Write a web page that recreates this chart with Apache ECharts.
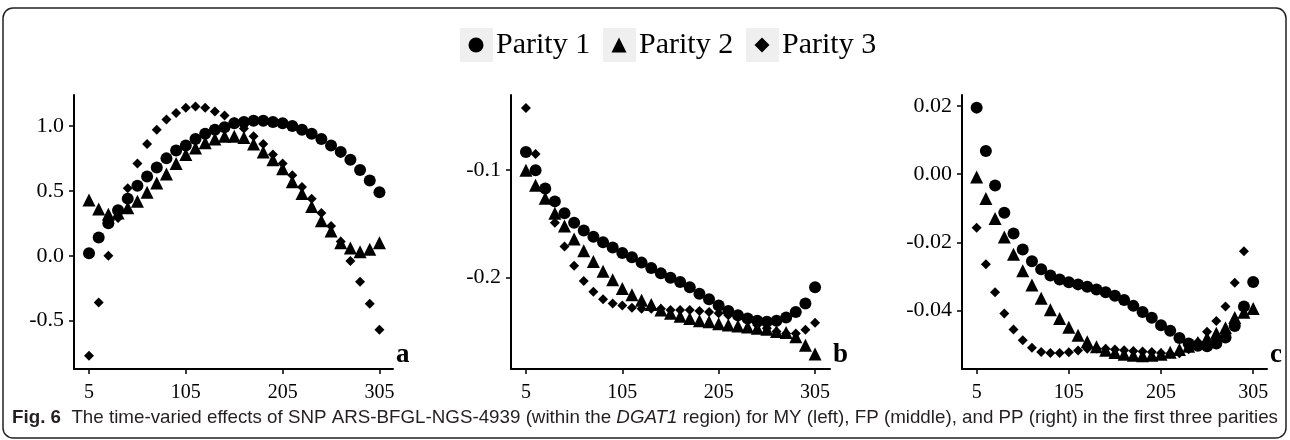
<!DOCTYPE html>
<html>
<head>
<meta charset="utf-8">
<script src="https://cdn.jsdelivr.net/npm/echarts@6/dist/echarts.min.js"></script>
<style>
  html, body { margin: 0; padding: 0; background: #fff; }
  #chart { width: 1290px; height: 440px; }
</style>
</head>
<body>
<div id="chart"></div>
<script>
// days in milk
const days = [5, 15, 25, 35, 45, 55, 65, 75, 85, 95, 105, 115, 125, 135, 145, 155,
  165, 175, 185, 195, 205, 215, 225, 235, 245, 255, 265, 275, 285, 295, 305];
const xTicks = [5, 105, 205, 305];
const parities = ['Parity 1', 'Parity 2', 'Parity 3'];

// (a) MY
const myP1 = [0.02, 0.14, 0.25, 0.35, 0.44, 0.54, 0.61, 0.68, 0.75, 0.81, 0.85, 0.90, 0.94, 0.97, 0.99,
  1.02, 1.03, 1.04, 1.04, 1.03, 1.02, 1.00, 0.97, 0.94, 0.90, 0.85, 0.80, 0.74, 0.66, 0.58, 0.49];
const myP2 = [0.43, 0.36, 0.32, 0.33, 0.37, 0.42, 0.49, 0.56, 0.63, 0.71, 0.78, 0.83, 0.87, 0.90, 0.92,
  0.92, 0.91, 0.86, 0.80, 0.74, 0.67, 0.57, 0.48, 0.38, 0.27, 0.19, 0.10, 0.06, 0.03, 0.05, 0.10];
const myP3 = [-0.77, -0.36, 0.00, 0.29, 0.52, 0.71, 0.86, 0.97, 1.05, 1.10, 1.14, 1.15, 1.14, 1.11, 1.08,
  1.03, 0.98, 0.92, 0.86, 0.78, 0.71, 0.62, 0.53, 0.44, 0.33, 0.23, 0.11, -0.04, -0.20, -0.37, -0.57];
const myTicks = [-0.5, 0, 0.5, 1.0];

// (b) FP
const fpP1 = [-0.083, -0.100, -0.117, -0.129, -0.140, -0.149, -0.156, -0.162, -0.167, -0.172, -0.177,
  -0.181, -0.186, -0.191, -0.196, -0.200, -0.204, -0.209, -0.215, -0.220, -0.226, -0.231, -0.235,
  -0.238, -0.240, -0.241, -0.240, -0.237, -0.232, -0.224, -0.209];
const fpP2 = [-0.100, -0.114, -0.126, -0.140, -0.152, -0.164, -0.175, -0.185, -0.194, -0.202, -0.210,
  -0.216, -0.221, -0.225, -0.230, -0.233, -0.236, -0.238, -0.240, -0.241, -0.243, -0.244, -0.245,
  -0.246, -0.247, -0.248, -0.250, -0.251, -0.255, -0.263, -0.271];
const fpP3 = [-0.042, -0.085, -0.119, -0.149, -0.171, -0.189, -0.203, -0.213, -0.220, -0.224, -0.226,
  -0.228, -0.229, -0.229, -0.229, -0.230, -0.230, -0.230, -0.231, -0.232, -0.233, -0.235, -0.237,
  -0.240, -0.244, -0.247, -0.250, -0.252, -0.252, -0.2485, -0.242];
const fpTicks = [-0.2, -0.1];

// (c) PP
const ppP1 = [0.0195, 0.0068, -0.0033, -0.0113, -0.0174, -0.0221, -0.0255, -0.0279, -0.0297, -0.0309,
  -0.0317, -0.0323, -0.0330, -0.0338, -0.0346, -0.0356, -0.0369, -0.0386, -0.0404, -0.0421, -0.0443,
  -0.0459, -0.0480, -0.0496, -0.0503, -0.0504, -0.0496, -0.0479, -0.0445, -0.0388, -0.0316];
const ppP2 = [-0.0008, -0.0071, -0.0130, -0.0184, -0.0235, -0.0283, -0.0325, -0.0364, -0.0397, -0.0423,
  -0.0449, -0.0472, -0.0491, -0.0506, -0.0516, -0.0523, -0.0528, -0.0531, -0.0532, -0.0531, -0.0528,
  -0.0522, -0.0514, -0.0504, -0.0493, -0.0480, -0.0466, -0.0450, -0.0420, -0.0405, -0.0394];
const ppP3 = [-0.0157, -0.0264, -0.0346, -0.0408, -0.0455, -0.0487, -0.0509, -0.0521, -0.0524, -0.0524,
  -0.0522, -0.0517, -0.0512, -0.0511, -0.0512, -0.0514, -0.0516, -0.0518, -0.0520, -0.0521, -0.0524,
  -0.0526, -0.0525, -0.0513, -0.0492, -0.0462, -0.0430, -0.0388, -0.0318, -0.0226];
const ppTicks = [-0.04, -0.02, 0, 0.02];

const serif = 'Liberation Serif';
const symbols = ['circle', 'triangle', 'diamond'];
const symbolSizes = [12, 13, 10];

// text measuring for legend boxes and caption fit
const ctx = document.createElement('canvas').getContext('2d');
function textWidth(font, s) { ctx.font = font; return ctx.measureText(s).width; }

const panels = [
  { data: [myP1, myP2, myP3], ticks: myTicks, dec: 1, ymin: -0.872, ymax: 1.238,
    xmin: -10.5, xmax: 319, grid: { left: 74, top: 95, width: 319, height: 274 }, tag: 'a' },
  { data: [fpP1, fpP2, fpP3], ticks: fpTicks, dec: 1, ymin: -0.285, ymax: -0.030,
    xmin: -10.5, xmax: 320.5, grid: { left: 511, top: 95, width: 319, height: 274 }, tag: 'b' },
  { data: [ppP1, ppP2, ppP3], ticks: ppTicks, dec: 2, ymin: -0.0571, ymax: 0.0232,
    xmin: -10.9, xmax: 320, grid: { left: 962, top: 95, width: 305, height: 274 }, tag: 'c' }
];

const axisLine = { show: true, onZero: false, lineStyle: { color: '#000', width: 2 } };
const tickStyle = { color: '#000', width: 1.5 };
const grids = [], xAxes = [], yAxes = [], series = [], tags = [];
panels.forEach((p, i) => {
  grids.push(p.grid);
  xAxes.push({
    type: 'value', gridIndex: i, min: p.xmin, max: p.xmax,
    axisLine: axisLine,
    axisTick: { show: true, customValues: xTicks, length: 5, lineStyle: tickStyle },
    axisLabel: { customValues: xTicks, color: '#000', fontFamily: serif, fontSize: 20, margin: 14 },
    splitLine: { show: false }
  });
  yAxes.push({
    type: 'value', gridIndex: i, min: p.ymin, max: p.ymax,
    axisLine: axisLine,
    axisTick: { show: true, customValues: p.ticks, length: 5, lineStyle: tickStyle },
    axisLabel: {
      customValues: p.ticks, color: '#000', fontFamily: serif, fontSize: 22, margin: 10,
      formatter: v => v.toFixed(p.dec)
    },
    splitLine: { show: false }
  });
  p.data.forEach((vals, k) => {
    series.push({
      name: parities[k], type: 'scatter', xAxisIndex: i, yAxisIndex: i,
      symbol: symbols[k], symbolSize: symbolSizes[k],
      itemStyle: { color: '#000', opacity: 1 },
      data: vals.map((v, j) => [days[j], v])
    });
  });
  tags.push({
    type: 'text', x: p.grid.left + p.grid.width + 3, y: 342,
    style: { text: p.tag, font: 'bold 27px "Liberation Serif"', fill: '#000' }
  });
});

// legend layout: fixed step between items so the grey icon boxes can be placed
const legendFont = 30;
const iconW = 15;
const iconCx = 476;          // centre of the first legend icon
const legendLeft = iconCx - iconW / 2;
const itemStep = 143;
const namePad = ' ';
const nameW = textWidth(legendFont + 'px "Liberation Serif"', namePad + parities[0]);
const legendGap = itemStep - (iconW + 5 + nameW);
const iconBoxes = parities.map((n, k) => ({
  type: 'rect', silent: true,
  shape: { x: iconCx + k * itemStep - 16, y: 28, width: 33, height: 34 },
  style: { fill: '#efefef' }
}));

// caption, squeezed to the frame width like the condensed original
const capFont = '19px "Liberation Sans"';
const capParts = [
  ['bold ' + capFont, 'Fig. 6'],
  [capFont, '  The time-varied effects of SNP ARS-BFGL-NGS-4939 (within the '],
  ['italic ' + capFont, 'DGAT1'],
  [capFont, ' region) for MY (left), FP (middle), and PP (right) in the first three parities']
];
const capW = capParts.reduce((s, c) => s + textWidth(c[0], c[1]), 0);
const capScale = 1266 / capW;

const chart = echarts.init(document.getElementById('chart'));
chart.setOption({
  animation: false,
  backgroundColor: '#fff',
  legend: {
    top: 30, left: legendLeft, padding: 0, itemGap: legendGap, itemWidth: iconW, itemHeight: 15,
    data: parities.map((n, k) => ({ name: n, icon: symbols[k] })),
    formatter: n => namePad + n,
    textStyle: { fontFamily: serif, fontSize: legendFont, color: '#000' },
    itemStyle: { color: '#000' }
  },
  grid: grids,
  xAxis: xAxes,
  yAxis: yAxes,
  series: series,
  graphic: [
    { type: 'rect', shape: { x: 3, y: 8, width: 1283, height: 430, r: 10 }, silent: true,
      style: { fill: 'none', stroke: '#222', lineWidth: 1.5 } },
    ...iconBoxes,
    ...tags,
    { type: 'text', x: 12, y: 408, scaleX: capScale, originX: 0, silent: true,
      style: {
        text: '{b|Fig. 6}  The time-varied effects of SNP ARS-BFGL-NGS-4939 (within the {i|DGAT1} region) for MY (left), FP (middle), and PP (right) in the first three parities',
        font: capFont, fill: '#231f20',
        rich: {
          b: { font: 'bold ' + capFont, fill: '#231f20' },
          i: { font: 'italic ' + capFont, fill: '#231f20' }
        }
      } }
  ]
});
</script>
</body>
</html>
